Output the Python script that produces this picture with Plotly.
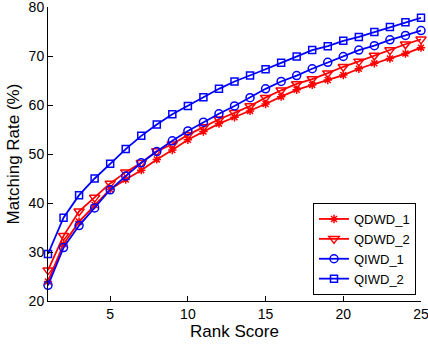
import plotly.graph_objects as go

rank = list(range(1, 26))

qdwd_1 = [24.0, 31.6, 36.2, 39.6, 42.8, 44.8, 46.7, 48.9, 50.8, 52.9, 54.6, 56.2, 57.5, 58.8, 60.2,
          61.7, 63.1, 64.1, 65.1, 66.1, 67.4, 68.5, 69.5, 70.5, 71.7]
qdwd_2 = [26.3, 33.3, 38.3, 41.1, 44.0, 46.3, 48.2, 50.6, 52.0, 53.9, 55.5, 57.1, 58.4, 59.8, 61.5,
          63.0, 64.3, 65.3, 66.5, 67.8, 68.9, 70.1, 71.2, 72.4, 73.4]
qiwd_1 = [23.2, 30.9, 35.4, 39.0, 42.7, 45.5, 48.2, 50.5, 52.7, 54.7, 56.5, 58.2, 59.8, 61.5, 63.3,
          64.8, 66.0, 67.4, 68.7, 69.9, 71.2, 72.1, 73.3, 74.2, 75.2]
qiwd_2 = [29.6, 37.0, 41.6, 45.0, 48.0, 51.0, 53.7, 56.0, 58.1, 59.8, 61.6, 63.3, 64.8, 66.0, 67.3,
          68.6, 69.9, 71.2, 72.0, 73.1, 73.9, 74.9, 75.9, 76.9, 77.8]

series_names = ["QDWD_1", "QDWD_2", "QIWD_1", "QIWD_2"]
x_ticks = [5, 10, 15, 20, 25]
y_ticks = [20, 30, 40, 50, 60, 70, 80]

RED = "#ff0000"
BLUE = "#0000ff"

styles = [
    (qdwd_1, RED, "asterisk-open", 7),
    (qdwd_2, RED, "triangle-down-open", 9),
    (qiwd_1, BLUE, "circle-open", 8),
    (qiwd_2, BLUE, "square-open", 7),
]

fig = go.Figure()
for name, (vals, col, sym, sz) in zip(series_names, styles):
    fig.add_trace(go.Scatter(
        x=rank, y=vals, name=name, mode="lines+markers",
        line=dict(color=col, width=1.8),
        marker=dict(symbol=sym, size=sz, color=col, line=dict(color=col, width=1.5)),
        cliponaxis=False,
    ))

FONT = "Liberation Sans, Arial, sans-serif"
fig.update_layout(
    width=428, height=345,
    margin=dict(l=48, r=7, t=7, b=44, autoexpand=False),
    plot_bgcolor="white", paper_bgcolor="white",
    font=dict(family=FONT, size=14, color="#000000"),
    showlegend=True,
    legend=dict(
        x=0.9866, y=0.0204, xanchor="right", yanchor="bottom",
        bgcolor="white", bordercolor="black", borderwidth=1,
        font=dict(family=FONT, size=13, color="#000000"),
        tracegroupgap=0, itemwidth=30,
    ),
)
fig.update_xaxes(
    range=[1, 25], tickvals=x_ticks, ticks="inside", ticklen=5, tickwidth=1,
    tickcolor="black", showline=True, linecolor="black", linewidth=1,
    showgrid=False, zeroline=False, mirror=False, automargin=False,
    ticklabeloverflow="allow",
    title=dict(text="Rank Score", font=dict(size=17), standoff=4),
    tickfont=dict(size=14),
)
fig.update_yaxes(
    range=[20, 80], tickvals=y_ticks, ticks="inside", ticklen=5, tickwidth=1,
    tickcolor="black", showline=True, linecolor="black", linewidth=1,
    showgrid=False, zeroline=False, mirror=False, automargin=False,
    ticklabeloverflow="allow",
    title=dict(text="Matching Rate (%)", font=dict(size=17), standoff=4),
    tickfont=dict(size=14),
)

fig.write_html("out.html", config={"displayModeBar": False},
               post_script="document.body.style.margin='0px';")
